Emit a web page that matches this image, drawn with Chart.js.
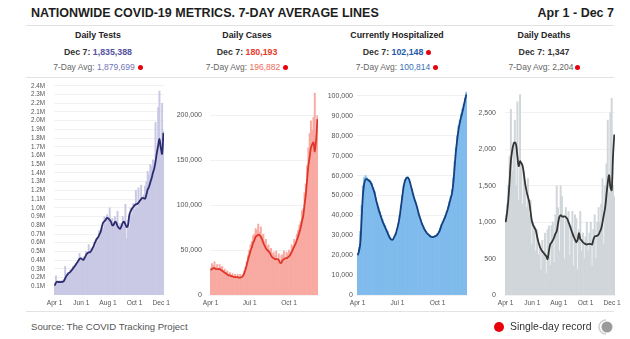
<!DOCTYPE html>
<html>
<head>
<meta charset="utf-8">
<script src="https://cdn.jsdelivr.net/npm/chart.js@4.4.1/dist/chart.umd.min.js"></script>
<style>
  body { margin: 0; background: #fff; font-family: "Liberation Sans", Arial, sans-serif; }
  #wrap { position: relative; width: 630px; height: 339px; overflow: hidden; }
  .abs { position: absolute; white-space: nowrap; }
  .title { left: 31px; top: 6px; font-size: 12.5px; line-height: 14px; font-weight: bold; color: #1d1d1d; }
  .range { right: 16px; top: 6px; font-size: 12.5px; line-height: 14px; font-weight: bold; color: #1d1d1d; }
  .rule { position: absolute; left: 26px; width: 588px; height: 1px; background: #e3e3e3; }
  .col { position: absolute; width: 150px; text-align: center; color: #333; }
  .col .h { position: absolute; left: 0; width: 150px; top: 29px; font-size: 8.8px; line-height: 12px; font-weight: bold; color: #222; }
  .col .d { position: absolute; left: 0; width: 150px; top: 46px; font-size: 8.8px; line-height: 12px; font-weight: bold; color: #333; }
  .col .a { position: absolute; left: 0; width: 150px; top: 61px; font-size: 8.5px; line-height: 12px; color: #666; }
  .dot { display: inline-block; width: 5px; height: 5px; border-radius: 50%; background: #e8000b; margin-left: 3px; vertical-align: 0px; }
  canvas { position: absolute; }
  .source { left: 31px; top: 321px; font-size: 9.6px; line-height: 12px; color: #555; }
  .legend { left: 494px; top: 321px; font-size: 10.4px; line-height: 12px; color: #333; }
  .legend .big { display: inline-block; width: 10px; height: 10px; border-radius: 50%; background: #e8000b; margin-right: 6px; vertical-align: -2px; }
</style>
</head>
<body>
<div id="wrap">
  <div class="abs title">NATIONWIDE COVID-19 METRICS. 7-DAY AVERAGE LINES</div>
  <div class="abs range">Apr 1 - Dec 7</div>
  <div class="rule" style="top:25px"></div>

  <div class="col" style="left:23px">
    <div class="h">Daily Tests</div>
    <div class="d">Dec 7: <span style="color:#54549e">1,835,388</span></div>
    <div class="a">7-Day Avg: <span style="color:#7575b8">1,879,699</span><span class="dot"></span></div>
  </div>
  <div class="col" style="left:172px">
    <div class="h">Daily Cases</div>
    <div class="d">Dec 7: <span style="color:#e63b2b">180,193</span></div>
    <div class="a">7-Day Avg: <span style="color:#ec6a5b">196,882</span><span class="dot"></span></div>
  </div>
  <div class="col" style="left:322px">
    <div class="h">Currently Hospitalized</div>
    <div class="d">Dec 7: <span style="color:#1f5ba6">102,148</span><span class="dot"></span></div>
    <div class="a">7-Day Avg: <span style="color:#3b70b6">100,814</span><span class="dot"></span></div>
  </div>
  <div class="col" style="left:469px">
    <div class="h">Daily Deaths</div>
    <div class="d">Dec 7: <span style="color:#333">1,347</span></div>
    <div class="a">7-Day Avg: <span style="color:#666">2,204</span><span class="dot" style="margin-left:1px"></span></div>
  </div>
  <div class="rule" style="top:77px"></div>

  <canvas id="tests" width="174" height="239" style="left:0px; top:73px"></canvas>
  <canvas id="cases" width="164" height="232" style="left:160px; top:80px"></canvas>
  <canvas id="hosp" width="163" height="232" style="left:310px; top:80px"></canvas>
  <canvas id="deaths" width="167" height="232" style="left:458px; top:80px"></canvas>

  <div class="rule" style="top:311px"></div>
  <div class="abs source">Source: The COVID Tracking Project</div>
  <div class="abs legend"><span class="big"></span>Single-day record</div>
  <svg class="abs" style="left:597px; top:318px" width="18" height="18" viewBox="0 0 18 18">
    <path d="M 9 2 A 7 7 0 0 0 9 16" fill="none" stroke="#cfcfcf" stroke-width="1.5"/>
    <circle cx="10" cy="9" r="5.5" fill="#9b9b9b"/>
  </svg>
</div>

<script>
// jours depuis le 1er avril, un point tous les 3 jours
const days = Array.from({ length: 84 }, (_, i) => i * 3);

const ticksLong = [0, 61, 122, 183, 244];
const labelsLong = ['Apr 1', 'Jun 1', 'Aug 1', 'Oct 1', 'Dec 1'];
const ticksShort = [0, 91, 183];
const labelsShort = ['Apr 1', 'Jul 1', 'Oct 1'];

const testsTicks = Array.from({ length: 24 }, (_, i) => (i + 1) * 100);
const casesTicks = [0, 50, 100, 150, 200];
const hospTicks = [0, 10, 20, 30, 40, 50, 60, 70, 80, 90, 100];
const deathsTicks = [0, 500, 1000, 1500, 2000, 2500];

// Daily tests (thousands)
const testsDaily = [
  120, 220, 150, 140, 165, 150, 170, 180, 330, 210, 260, 250,
  290, 280, 330, 320, 360, 350, 400, 480, 430, 400, 440, 420,
  500, 470, 580, 500, 540, 520, 600, 560, 650, 620, 740, 690,
  800, 760, 900, 820, 920, 880, 1000, 860, 880, 820, 900, 850,
  960, 780, 820, 760, 900, 800, 1040, 650, 860, 780, 1000, 920,
  1050, 980, 1200, 1000, 1230, 1080, 1260, 1100, 1150, 1250, 1300, 1420,
  1380, 1500, 1480, 1550, 1540, 1980, 1700, 2150, 2340, 1650, 2200, 1880
];
const testsAvg = [
  110, 140, 155, 150, 148, 150, 152, 160, 190, 220, 240, 255,
  265, 285, 305, 325, 345, 370, 390, 415, 420, 410, 405, 430,
  460, 480, 490, 490, 510, 540, 570, 610, 640, 660, 690, 720,
  780, 830, 845, 865, 885, 880, 860, 840, 800, 805, 840, 830,
  790, 770, 760, 790, 830, 840, 810, 780, 800, 920, 960, 990,
  1010, 1030, 1040, 1045, 1060, 1080, 1100, 1115, 1110, 1105, 1150, 1210,
  1240, 1290, 1340, 1400, 1450, 1530, 1630, 1710, 1790, 1690, 1620, 1860
];

// Daily cases (thousands)
const casesDaily = [
  30, 35, 33, 37, 31, 34, 29, 34, 31, 32, 27, 29,
  25, 27, 23, 25, 22, 24, 21, 23, 21, 23, 19, 23,
  19, 23, 27, 31, 37, 44, 50, 56, 60, 66, 68, 74,
  72, 79, 70, 76, 66, 68, 60, 62, 54, 56, 50, 52,
  46, 48, 44, 49, 40, 46, 34, 44, 45, 49, 41, 48,
  46, 50, 48, 56, 54, 62, 59, 68, 72, 78, 82, 94,
  96, 114, 124, 144, 164, 180, 194, 184, 198, 225, 165, 200
];
const casesAvg = [
  28, 29, 30, 30, 29, 29, 29, 29, 28, 27, 26, 25,
  24, 23, 22, 22, 21, 21, 20, 20, 20, 20, 19.5, 19.5,
  20, 21, 24, 28, 33, 39, 44, 49, 53, 58, 61, 65,
  66, 67, 67, 65, 62, 58, 55, 52, 50, 49, 47, 44,
  42, 41, 40, 40, 40, 39, 36, 36, 39, 40, 41, 41,
  42, 43, 45, 48, 51, 54, 57, 61, 65, 70, 75, 82,
  88, 100, 112, 128, 144, 154, 164, 168, 170, 160, 172, 196
];

// Currently hospitalized (thousands)
const hospDaily = [
  20, 24, 32, 45, 55, 59, 60, 59, 58, 58, 57, 56,
  54, 52, 49, 46, 44, 42, 40, 38, 36, 35, 33, 32,
  30, 29, 28, 28, 29, 31, 33, 36, 40, 45, 50, 55,
  58, 59, 59.5, 58, 56, 53.5, 51, 49, 47, 44.5, 42, 40,
  38, 36, 34.5, 33, 32, 31, 30.5, 30, 29.5, 29.3, 29.5, 29.8,
  30, 31, 32, 33.5, 35.5, 37, 38.5, 40, 42, 44.5, 47, 49.5,
  53, 59, 67, 74, 80, 85, 88, 91, 93.5, 96, 99, 102
];
const hospAvg = [
  20, 22, 26, 38, 50, 56, 58, 58.2, 57.8, 57.3, 56.5, 55,
  53, 51, 48, 45.5, 43, 41, 39, 37, 35.5, 34, 32.5, 31,
  29.5, 28.3, 27.8, 28, 29.3, 30.5, 33, 35.5, 39, 44, 49, 54,
  57, 58.5, 59, 58.5, 56.5, 54, 51.5, 49, 47, 45, 42.5, 40,
  38, 36, 34.5, 33, 32, 31, 30.5, 29.8, 29.3, 29.1, 29.2, 29.5,
  29.8, 30.5, 31.5, 33, 35, 36.5, 38, 39.5, 41.5, 43.5, 46, 48.5,
  51, 56, 64, 72, 78, 83, 86.5, 89.5, 92, 95, 98, 100.8
];

// Daily deaths
const deathsDaily = [
  1100, 1250, 1500, 1900, 2550, 1700, 2100, 2400, 1500, 2650, 1300, 2750,
  1800, 1250, 1700, 1400, 1200, 1600, 1100, 1300, 700, 1000, 950, 600,
  900, 550, 700, 350, 750, 600, 850, 300, 900, 950, 400, 950,
  1000, 450, 1100, 1500, 1200, 600, 1500, 1350, 1100, 500, 1200, 1000,
  1150, 550, 950, 1150, 400, 1100, 1050, 350, 900, 1150, 600, 850,
  500, 800, 1000, 600, 850, 1000, 400, 900, 1100, 500, 1000, 1200,
  1000, 1250, 1600, 700, 1500, 1800, 2400, 1400, 2500, 2700, 1500, 1350
];
const deathsAvg = [
  1000, 1120, 1300, 1560, 1840, 1985, 2070, 2095, 2060, 1900, 1770, 1835,
  1810, 1770, 1650, 1520, 1420, 1350, 1280, 1147, 1020, 960, 925, 890,
  807, 730, 670, 630, 600, 580, 555, 535, 495, 600, 694, 720,
  750, 790, 840, 875, 980, 1070, 1095, 1080, 1075, 1080, 1070, 1050,
  1000, 955, 900, 850, 800, 760, 725, 760, 850, 770, 750, 725,
  710, 700, 694, 700, 703, 700, 694, 760, 805, 810, 815, 830,
  870, 915, 1000, 1100, 1200, 1373, 1540, 1645, 1480, 1440, 1900, 2204
];

function makePanel(id, daily, avg, o) {
  new Chart(document.getElementById(id), {
    data: {
      datasets: [
        {
          type: 'line',
          data: days.map((d, i) => ({ x: d, y: avg[i] })),
          borderColor: o.line,
          borderWidth: 1.8,
          pointRadius: 0,
          tension: 0.35,
          order: 0
        },
        {
          type: 'bar',
          data: days.map((d, i) => ({ x: d, y: daily[i] })),
          backgroundColor: o.bar,
          borderWidth: 0,
          barPercentage: 1,
          categoryPercentage: 1,
          order: 1
        }
      ]
    },
    options: {
      responsive: false,
      animation: false,
      devicePixelRatio: 1,
      layout: { padding: { top: o.top, right: o.right, bottom: 1, left: 0 } },
      plugins: { legend: { display: false }, tooltip: { enabled: false } },
      scales: {
        x: {
          type: 'linear',
          min: -1.5,
          max: 250.5,
          offset: false,
          grid: { display: false, drawTicks: false },
          border: { display: false },
          afterBuildTicks: (s) => { s.ticks = o.xt.map(v => ({ value: v })); },
          ticks: {
            autoSkip: false,
            maxRotation: 0,
            padding: 4,
            color: '#555',
            font: { family: 'Liberation Sans', size: 6.6 },
            callback: (v) => o.xl[o.xt.indexOf(v)]
          }
        },
        y: {
          min: 0,
          max: o.max,
          grid: { color: '#f1f1f1', drawTicks: false },
          border: { display: false },
          afterBuildTicks: (s) => { s.ticks = o.yt.map(v => ({ value: v })); },
          afterFit: (s) => { s.width = o.yw; },
          ticks: {
            autoSkip: false,
            padding: o.pad,
            color: '#555',
            font: { family: 'Liberation Sans', size: o.fs },
            callback: o.fmt
          }
        }
      }
    }
  });
}

makePanel('tests', testsDaily, testsAvg, {
  line: '#2b2c70', bar: '#c9c9e5', max: 2400, yt: testsTicks, yw: 54, pad: 9, fs: 6.3,
  top: 6, right: 7, xt: ticksLong, xl: labelsLong,
  fmt: (v) => (v / 1000).toFixed(1) + 'M'
});
makePanel('cases', casesDaily, casesAvg, {
  line: '#e0372a', bar: '#f8aaa2', max: 226, yt: casesTicks, yw: 50, pad: 8, fs: 7,
  top: 12, right: 6, xt: ticksShort, xl: labelsShort,
  fmt: (v) => (v * 1000).toLocaleString('en-US')
});
makePanel('hosp', hospDaily, hospAvg, {
  line: '#143f80', bar: '#7fbbec', max: 103, yt: hospTicks, yw: 47, pad: 4, fs: 7,
  top: 10, right: 6, xt: ticksShort, xl: labelsShort,
  fmt: (v) => (v * 1000).toLocaleString('en-US')
});
makePanel('deaths', deathsDaily, deathsAvg, {
  line: '#333333', bar: '#d0d6d9', max: 2770, yt: deathsTicks, yw: 47, pad: 9, fs: 7,
  top: 12, right: 10, xt: ticksLong, xl: labelsLong,
  fmt: (v) => v.toLocaleString('en-US')
});
</script>
</body>
</html>
